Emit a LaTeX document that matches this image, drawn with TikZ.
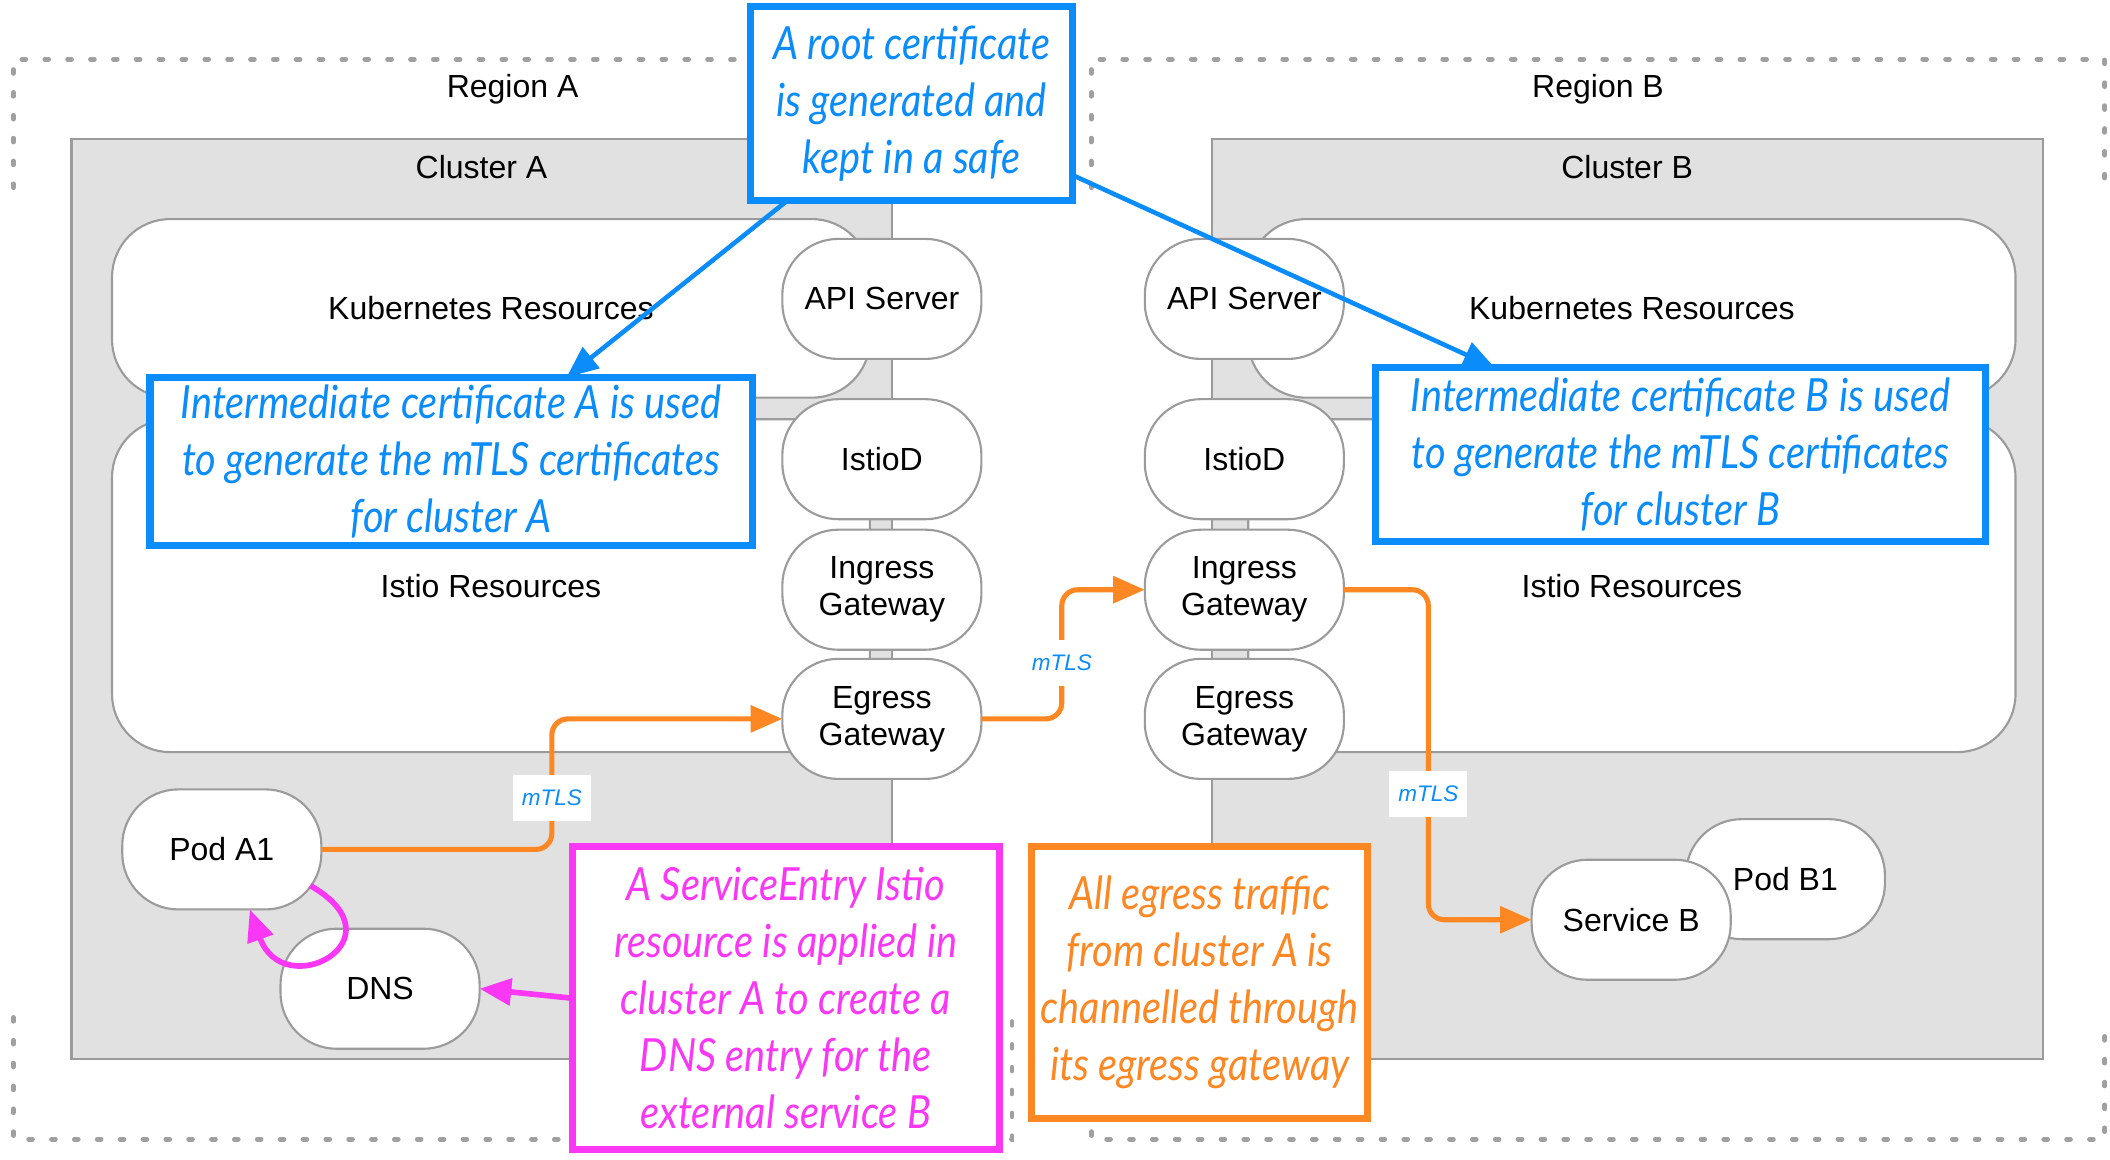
\documentclass[tikz,border=0pt]{standalone}
\usepackage{fontspec}
\setmainfont{Liberation Sans}
\newfontfamily\handfont[FakeStretch=0.87]{Lato}
\usetikzlibrary{arrows.meta,calc}
\tikzset{>={Triangle[length=9pt,width=7.5pt]}}

\definecolor{framegray}{RGB}{160,160,160}
\definecolor{clusterfill}{RGB}{225,225,225}
\definecolor{edgegray}{RGB}{155,155,155}
\definecolor{certblue}{RGB}{10,140,250}
\definecolor{notepink}{RGB}{250,55,245}
\definecolor{floworange}{RGB}{253,135,35}

\begin{document}
\begin{tikzpicture}
    [
      x=0.013526cm, y=-0.013526cm,
      every node/.style={outer sep=0pt, font=\fontsize{9.1}{10.5}\selectfont},
      region/.style={draw=framegray, line width=1.35pt, line cap=round, dash pattern=on 1.1pt off 5.4pt},
      cluster/.style={draw=edgegray, fill=clusterfill, line width=0.6pt},
      group/.style={draw=edgegray, fill=white, line width=0.6pt, rounded corners=0.58cm},
      comp/.style={draw=edgegray, fill=white, line width=0.6pt, rounded corners=0.56cm, minimum width=1.99cm, minimum height=1.2cm, align=center},
      note/.style={draw=#1, fill=white, line width=2pt, text=#1, align=center, inner sep=2pt, font=\handfont\itshape\fontsize{13}{16.2}\selectfont},
      flow/.style={->, draw=floworange, line width=1.45pt, rounded corners=0.16cm},
      certarr/.style={->, draw=certblue, line width=1.3pt},
      notearr/.style={->, draw=notepink, line width=1.6pt},
      mtls/.style={fill=white, text=certblue, minimum width=0.78cm, minimum height=0.46cm, inner sep=0pt, font=\itshape\fontsize{6.4}{7}\selectfont}
    ]
    \useasboundingbox (0,0) rectangle (1560,857.6);

    % regions
    \node (region-a) [minimum width=9.982cm, minimum height=10.794cm] at (379,443) {};
    \node (region-b) [minimum width=10.131cm, minimum height=10.794cm] at (1181.5,443) {};
    \draw [region] ($(region-a.north west)+(0,95)$) -- (region-a.north west) -- (region-a.north east) -- ++(0,95);
    \draw [region] ($(region-a.south west)+(0,-90)$) -- (region-a.south west) -- (region-a.south east) -- ++(0,-90);
    \draw [region] ($(region-b.north west)+(0,95)$) -- (region-b.north west) -- (region-b.north east) -- ++(0,95);
    \draw [region] ($(region-b.south west)+(0,-90)$) -- (region-b.south west) -- (region-b.south east) -- ++(0,-90);
    \node (region-a-label) at ($(region-a.north)+(0,22)$) {Region A};
    \node (region-b-label) at ($(region-b.north)+(0,22)$) {Region B};

    % clusters
    \node (cluster-a) [cluster, minimum width=8.197cm, minimum height=9.198cm] at (356,443) {};
    \node (cluster-b) [cluster, minimum width=8.305cm, minimum height=9.198cm] at (1203,443) {};
    \node (cluster-a-label) at ($(cluster-a.north)+(0,21)$) {Cluster A};
    \node (cluster-b-label) at ($(cluster-b.north)+(0,21)$) {Cluster B};

    \node (k8s-a) [group, minimum width=7.575cm, minimum height=1.785cm] at (363,228) {Kubernetes Resources};
    \node (istio-a) [group, minimum width=7.575cm, minimum height=3.327cm] at (363,433) {Istio Resources};
    \node (k8s-b) [group, minimum width=7.669cm, minimum height=1.785cm] at (1206.5,228) {Kubernetes Resources};
    \node (istio-b) [group, minimum width=7.669cm, minimum height=3.327cm] at (1206.5,433) {Istio Resources};

    % components
    \node (api-a) [comp] at (652,221) {API Server};
    \node (istiod-a) [comp] at (652,339.5) {IstioD};
    \node (ingress-a) [comp] at (652,436) {Ingress\\Gateway};
    \node (egress-a) [comp] at (652,531.5) {Egress\\Gateway};
    \node (api-b) [comp] at (920,221) {API Server};
    \node (istiod-b) [comp] at (920,339.5) {IstioD};
    \node (ingress-b) [comp] at (920,436) {Ingress\\Gateway};
    \node (egress-b) [comp] at (920,531.5) {Egress\\Gateway};
    \node (pod-a1) [comp] at (164,628) {Pod A1};
    \node (dns-a) [comp] at (281,731) {DNS};
    \node (pod-b1) [comp] at (1320,650) {Pod B1};
    \node (svc-b) [comp] at (1206,680) {Service B};

    % mTLS traffic
    \coordinate (bend-a) at (408,590);
    \coordinate (bend-b) at (785,490);
    \coordinate (bend-c) at (1056,587);
    \draw [flow] (pod-a1.east) -| (bend-a) |- (egress-a.west);
    \draw [flow] (egress-a.east) -| (bend-b) |- (ingress-b.west);
    \draw [flow] (ingress-b.east) -| (bend-c) |- (svc-b.west);
    \node (mtls-a) [mtls] at (bend-a) {mTLS};
    \node (mtls-b) [mtls] at (bend-b) {mTLS};
    \node (mtls-c) [mtls] at (bend-c) {mTLS};

    % notes
    \node (root-cert) [note=certblue, minimum width=3.219cm, minimum height=1.934cm] at (674,76.5) {A root certificate\\is generated and\\kept in a safe};
    \node (inter-a) [note=certblue, minimum width=6.019cm, minimum height=1.677cm] at (333.5,341) {Intermediate certificate A is used\\to generate the mTLS certificates\\for cluster A};
    \node (inter-b) [note=certblue, minimum width=6.1cm, minimum height=1.731cm] at (1242.5,336) {Intermediate certificate B is used\\to generate the mTLS certificates\\for cluster B};
    \node (note-dns) [note=notepink, minimum width=4.274cm, minimum height=3.03cm] at (581,738) {A ServiceEntry Istio\\resource is applied in\\cluster A to create a\\DNS entry for the\\external service B};
    \node (note-egress) [note=floworange, minimum width=3.354cm, minimum height=2.719cm] at (887,726.5) {All egress traffic\\from cluster A is\\channelled through\\its egress gateway};

    \draw [certarr] (root-cert.218) -- (inter-a.36);
    \draw [certarr] (root-cert.-24) -- (inter-b.155.5);
    \draw [notearr] (note-dns.west) -- (dns-a.east);
    \draw [notearr] ([xshift=-0.11cm]pod-a1.-20) .. controls +(70,40) and +(25,70) .. (pod-a1.-65);
  \end{tikzpicture}
\end{document}
